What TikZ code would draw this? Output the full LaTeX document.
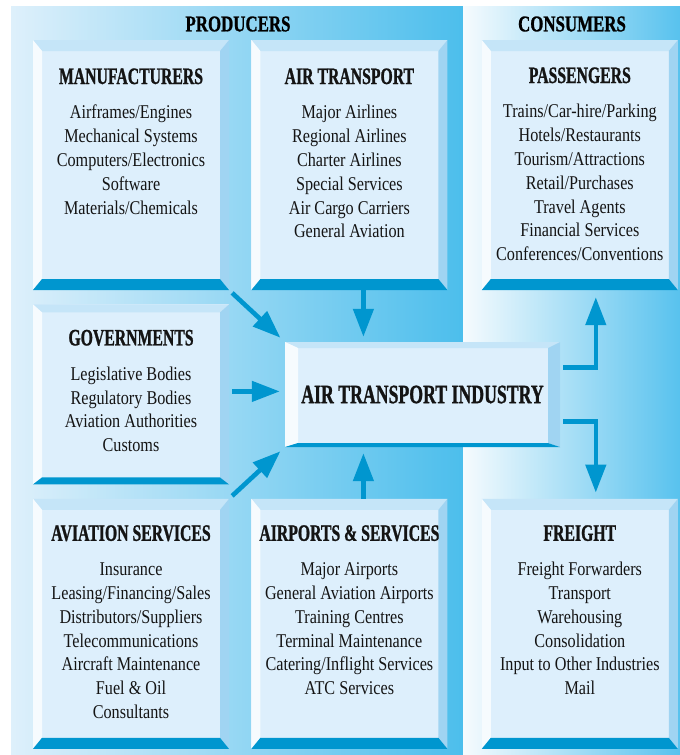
\documentclass[tikz,border=0pt]{standalone}
\usepackage{fontspec}
\setmainfont{Liberation Serif}[FakeStretch=0.83]
\newfontfamily\headfont{Liberation Serif}[FakeStretch=0.67, FakeBold=1]
\newfontfamily\sidefont{Liberation Serif}[FakeStretch=0.75, FakeBold=1]
\usepackage{tikz}
\usetikzlibrary{arrows.meta,positioning,calc}
\definecolor{face}{RGB}{221,239,252}
\definecolor{bevtop}{RGB}{197,229,248}
\definecolor{bevleft}{RGB}{246,251,254}
\definecolor{bevright}{RGB}{160,212,242}
\definecolor{bevdark}{RGB}{0,150,207}
\definecolor{prodleft}{RGB}{222,240,251}
\definecolor{prodright}{RGB}{76,190,236}
\definecolor{consleft}{RGB}{246,251,254}
\definecolor{consright}{RGB}{88,194,238}
\definecolor{ink}{RGB}{20,20,20}
\tikzset{bevel/.style n args={4}{path picture={
    \coordinate (nw) at (path picture bounding box.north west);
    \coordinate (ne) at (path picture bounding box.north east);
    \coordinate (se) at (path picture bounding box.south east);
    \coordinate (sw) at (path picture bounding box.south west);
    \fill[bevtop] (nw) -- (ne) -- ($(ne)+(-#3,#2)$) -- ($(nw)+(#1,#2)$) -- cycle;
    \fill[bevleft] (nw) -- ($(nw)+(#1,#2)$) -- ($(sw)+(#1,-#4)$) -- (sw) -- cycle;
    \fill[bevright] (ne) -- (se) -- ($(se)+(-#3,-#4)$) -- ($(ne)+(-#3,#2)$) -- cycle;
    \fill[bevdark] (sw) -- ($(sw)+(#1,-#4)$) -- ($(se)+(-#3,-#4)$) -- (se) -- cycle;
}}}
\newcommand{\boxtext}[4]{\parbox[c][#1][t]{196pt}{\centering\fontsize{19.5}{23.8}\selectfont
    \rule{0pt}{#2}{\headfont\bfseries\fontsize{23.5}{24}\selectfont #3}\\[11pt]#4}}

\begin{document}
\begin{tikzpicture}[x=1pt, y=-1pt]
    \tikzstyle{block} = [fill=face, text=ink, inner sep=0pt, bevel={9}{11}{9}{11}]
    \tikzstyle{flow} = [draw=bevdark, line width=4.6pt, -{Triangle[length=28pt,width=20pt]}]
    \tikzstyle{sidehead} = [inner sep=0pt, font=\sidefont\bfseries\fontsize{22.5}{24}\selectfont]

    \useasboundingbox (0,0) rectangle (680,755);
    % Background
    \shade[left color=prodleft, right color=prodright] (11,6) rectangle (463,755);
    \shade[left color=consleft, right color=consright] (463,6) rectangle (680,755);
    \node[sidehead] (producers) at (238,24) {PRODUCERS};
    \node[sidehead] (consumers) at (572,24) {CONSUMERS};

    % Top row
    \node[block] (manuf) at (131,165) {\boxtext{250pt}{44pt}{MANUFACTURERS}{Airframes/Engines\\Mechanical Systems\\Computers/Electronics\\Software\\Materials/Chemicals}};
    \node[block, right=22pt of manuf] (airtr) {\boxtext{250pt}{44pt}{AIR TRANSPORT}{Major Airlines\\Regional Airlines\\Charter Airlines\\Special Services\\Air Cargo Carriers\\General Aviation}};
    \node[block, right=34pt of airtr] (pass) {\boxtext{250pt}{43pt}{PASSENGERS}{Trains/Car-hire/Parking\\Hotels/Restaurants\\Tourism/Attractions\\Retail/Purchases\\Travel Agents\\Financial Services\\Conferences/Conventions}};

    % Middle row
    \node[block, bevel={9}{8}{9}{7}, below=14pt of manuf] (gov) {\boxtext{180pt}{41pt}{GOVERNMENTS}{Legislative Bodies\\Regulatory Bodies\\Aviation Authorities\\Customs}};
    \node[block, bevel={13}{6}{12}{4}, minimum width=275pt, minimum height=105pt, font=\headfont\bfseries\fontsize{26.5}{30}\selectfont] (industry) at (422.5,394.5) {\raisebox{-1.5pt}{AIR TRANSPORT INDUSTRY}};

    % Bottom row
    \node[block, below=14pt of gov] (avserv) {\boxtext{250pt}{42pt}{AVIATION SERVICES}{Insurance\\Leasing/Financing/Sales\\Distributors/Suppliers\\Telecommunications\\Aircraft Maintenance\\Fuel \& Oil\\Consultants}};
    \node[block, right=22pt of avserv] (airports) {\boxtext{250pt}{42pt}{AIRPORTS \& SERVICES}{Major Airports\\General Aviation Airports\\Training Centres\\Terminal Maintenance\\Catering/Inflight Services\\ATC Services}};
    \node[block, right=34pt of airports] (freight) {\boxtext{250pt}{42pt}{FREIGHT}{Freight Forwarders\\Transport\\Warehousing\\Consolidation\\Input to Other Industries\\Mail}};

    % Arrows
    \coordinate (atfoot) at ([xshift=14pt]airtr.south);
    \coordinate (apfoot) at ([xshift=14pt]airports.north);
    \coordinate (govout) at ([yshift=3pt]gov.east);
    \draw[flow, shorten <=4pt, shorten >=6pt] (manuf.south east) -- (industry.north west);
    \draw[flow, shorten >=5pt] (atfoot) -- (atfoot |- industry.north);
    \draw[flow, shorten <=3pt, shorten >=5pt] (govout) -- (govout -| industry.west);
    \draw[flow, shorten <=4pt, shorten >=6pt] (avserv.north east) -- (industry.south west);
    \draw[flow, shorten >=6pt] (apfoot) -- (apfoot |- industry.south);
    \draw[flow, shorten <=3pt, shorten >=7pt] ([yshift=27pt]industry.east) -| ([xshift=16pt]pass.south);
    \draw[flow, shorten <=3pt, shorten >=6pt] ([yshift=-27pt]industry.east) -| ([xshift=16pt]freight.north);
\end{tikzpicture}
\end{document}
